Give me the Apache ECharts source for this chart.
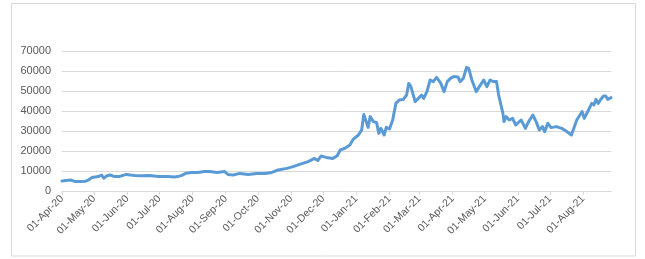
<!DOCTYPE html>
<html>
<head>
<meta charset="utf-8">
<script src="https://cdn.jsdelivr.net/npm/echarts@6/dist/echarts.min.js"></script>
<style>
html,body{margin:0;padding:0;background:#fff;}
#chart{width:645px;height:259px;}
</style>
</head>
<body>
<div id="chart"></div>
<script>
// Axis range (daily date axis)
var startDate = '2020-04-01';
var endDate = '2021-08-27';

// Y-axis ticks
var yTicks = [0, 10000, 20000, 30000, 40000, 50000, 60000, 70000];

var sampleDates = [
'2020-04-01','2020-04-05','2020-04-09','2020-04-13','2020-04-18','2020-04-23','2020-04-26','2020-04-29',
'2020-05-02','2020-05-05','2020-05-08','2020-05-10','2020-05-13','2020-05-16','2020-05-20','2020-05-25','2020-05-31',
'2020-06-04','2020-06-08','2020-06-14','2020-06-22','2020-06-30',
'2020-07-09','2020-07-15','2020-07-18','2020-07-22','2020-07-26','2020-07-31',
'2020-08-06','2020-08-12','2020-08-17','2020-08-24','2020-08-31',
'2020-09-03','2020-09-08','2020-09-14','2020-09-22','2020-09-30',
'2020-10-08','2020-10-14','2020-10-20','2020-10-28',
'2020-11-03','2020-11-09','2020-11-17','2020-11-23','2020-11-26','2020-11-29',
'2020-12-04','2020-12-10','2020-12-14','2020-12-17','2020-12-21','2020-12-26','2020-12-29',
'2021-01-03','2021-01-06','2021-01-08','2021-01-12','2021-01-14','2021-01-17','2021-01-20','2021-01-22','2021-01-24','2021-01-27','2021-01-29',
'2021-02-01','2021-02-04','2021-02-07','2021-02-10','2021-02-14','2021-02-17','2021-02-19','2021-02-21','2021-02-25','2021-02-28',
'2021-03-03','2021-03-05','2021-03-08','2021-03-11','2021-03-14','2021-03-17','2021-03-21','2021-03-24','2021-03-27','2021-03-30',
'2021-04-02','2021-04-06','2021-04-08','2021-04-11','2021-04-14','2021-04-16','2021-04-19','2021-04-23','2021-04-26','2021-04-30',
'2021-05-03','2021-05-06','2021-05-09','2021-05-12','2021-05-14','2021-05-15','2021-05-18','2021-05-19','2021-05-21','2021-05-24','2021-05-27','2021-05-30',
'2021-06-04','2021-06-08','2021-06-11','2021-06-15','2021-06-18','2021-06-21','2021-06-24','2021-06-26','2021-06-29',
'2021-07-02','2021-07-07','2021-07-12','2021-07-16','2021-07-21','2021-07-26','2021-07-29','2021-07-31',
'2021-08-02','2021-08-06','2021-08-09','2021-08-11','2021-08-13','2021-08-15','2021-08-17','2021-08-20','2021-08-22','2021-08-24','2021-08-27'
];
var sampleValues = [
5000,5300,5500,4800,4700,4900,5600,6800,
7000,7200,8000,6400,7600,8000,7200,7300,8300,
8000,7800,7600,7800,7300,
7300,7000,7200,7800,8900,9200,
9300,9700,9700,9300,9700,
8300,8000,8800,8300,8800,
8800,9300,10500,11300,
12200,13300,14700,16300,15200,17500,
16800,16300,17500,20500,21300,23000,25800,
28000,30500,38300,31800,37200,34700,34200,28800,31300,28000,31800,
31000,35500,43800,45500,45800,48000,53800,52200,44700,46300,
48000,46300,49700,55500,54700,56800,53800,49700,54700,56300,
57200,57000,54700,56300,61800,61300,55500,49700,52200,55500,
52200,55500,54700,54700,48000,47200,38800,34700,37200,35500,36300,33000,
35500,31300,34700,38000,34700,30500,32200,29700,33800,
31700,32200,31300,30000,28000,35500,38000,39700,
36300,40500,43800,43000,45800,43800,45500,47500,47500,45800,46700
];

var MONTHS = ['Jan','Feb','Mar','Apr','May','Jun','Jul','Aug','Sep','Oct','Nov','Dec'];
function pad(n){return (n<10?'0':'')+n;}
function parseISO(s){var p=s.split('-');return Date.UTC(+p[0],+p[1]-1,+p[2]);}

var lookup = {};
for (var i=0;i<sampleDates.length;i++) lookup[sampleDates[i]] = sampleValues[i];

var categories = [];
var seriesData = [];
for (var t=parseISO(startDate); t<=parseISO(endDate); t+=86400000){
  var d = new Date(t);
  var iso = d.getUTCFullYear()+'-'+pad(d.getUTCMonth()+1)+'-'+pad(d.getUTCDate());
  categories.push(pad(d.getUTCDate())+'-'+MONTHS[d.getUTCMonth()]+'-'+String(d.getUTCFullYear()).slice(2));
  seriesData.push(lookup.hasOwnProperty(iso) ? lookup[iso] : null);
}

function isMonthStart(idx, val){ return String(categories[idx]).indexOf('01-')===0; }

var chart = echarts.init(document.getElementById('chart'), null, {renderer:'canvas'});
chart.setOption({
  animation:false,
  backgroundColor:'#ffffff',
  graphic:[{
    type:'rect', shape:{x:11.5,y:3.5,width:624,height:252.5},
    style:{fill:'none',stroke:'#d9d9d9',lineWidth:1}, silent:true
  }],
  grid:{left:62,right:34,top:51,bottom:68,containLabel:false},
  xAxis:{
    type:'category', data:categories, boundaryGap:false,
    axisLine:{lineStyle:{color:'#d9d9d9',width:1}},
    axisTick:{show:true,interval:isMonthStart,length:4,lineStyle:{color:'#d9d9d9'}},
    axisLabel:{interval:isMonthStart,rotate:45,margin:6,color:'#595959',
      fontFamily:'Liberation Sans, Arial, sans-serif',fontSize:10.5},
    splitLine:{show:false}
  },
  yAxis:{
    type:'value', min:yTicks[0], max:yTicks[yTicks.length-1], interval:yTicks[1]-yTicks[0],
    axisLine:{show:false}, axisTick:{show:false},
    axisLabel:{color:'#595959',fontFamily:'Liberation Sans, Arial, sans-serif',fontSize:11,margin:11,
      formatter:function(v){return String(v);}},
    splitLine:{lineStyle:{color:'#d9d9d9',width:1}}
  },
  series:[{
    type:'line', data:seriesData, connectNulls:true, showSymbol:false, symbol:'none',
    lineStyle:{color:'#5b9bd5',width:3,join:'round',cap:'round'},
    smooth:false
  }]
});
</script>
</body>
</html>
